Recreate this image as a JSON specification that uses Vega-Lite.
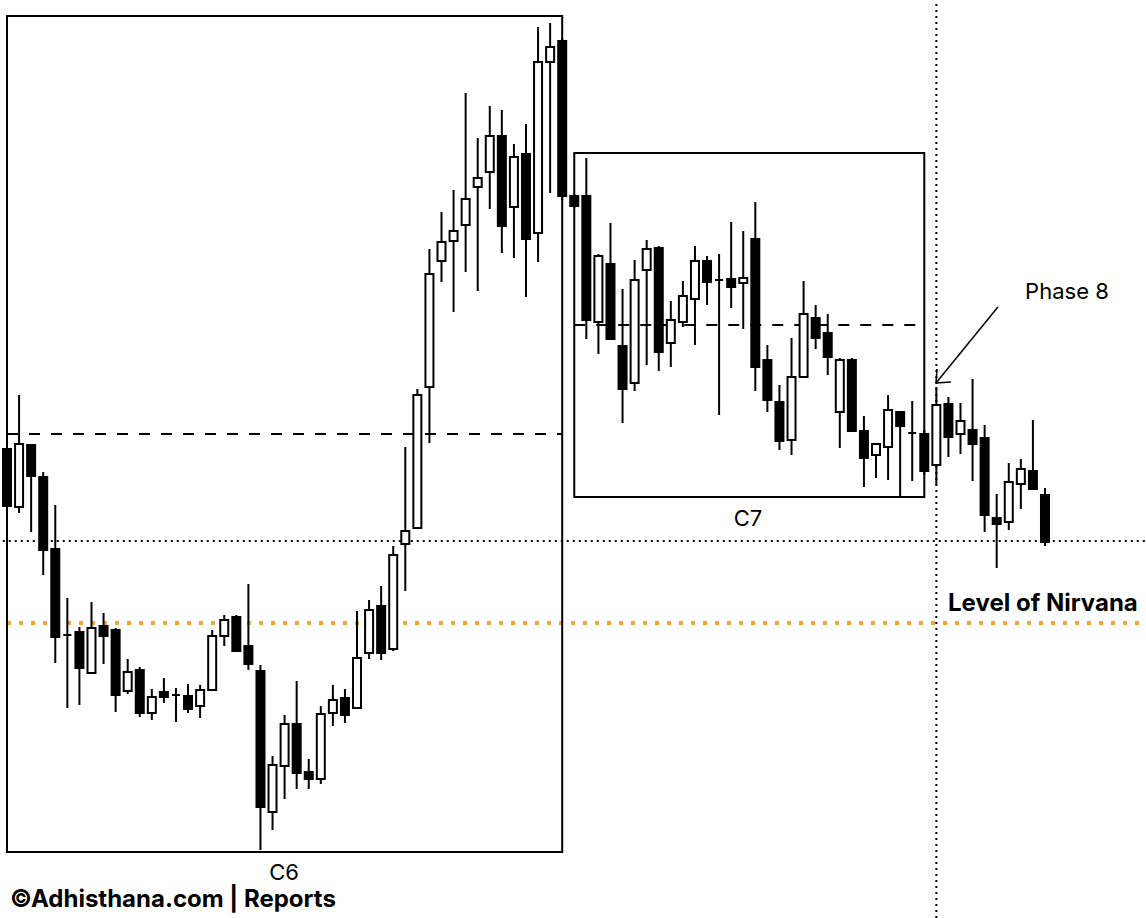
{
  "$schema": "https://vega.github.io/schema/vega-lite/v6.json",
  "width": 1146,
  "height": 918,
  "autosize": {"type": "none"},
  "padding": 0,
  "background": "white",
  "config": {"view": {"stroke": null}, "font": "Inter"},
  "datasets": {
    "candles": [
      {"i":0,"o":469,"c":412,"h":469,"l":412},
      {"i":1,"o":411,"c":474,"h":523,"l":405},
      {"i":2,"o":473,"c":442,"h":473,"l":386},
      {"i":3,"o":441,"c":368,"h":446,"l":343},
      {"i":4,"o":369,"c":281,"h":413,"l":255},
      {"i":5,"o":283,"c":283,"h":320,"l":210},
      {"i":6,"o":286,"c":250,"h":291,"l":213},
      {"i":7,"o":245,"c":290,"h":316,"l":244},
      {"i":8,"o":292,"c":282,"h":305,"l":254},
      {"i":9,"o":288,"c":223,"h":290,"l":206},
      {"i":10,"o":227,"c":246,"h":259,"l":224},
      {"i":11,"o":248,"c":205,"h":251,"l":201},
      {"i":12,"o":205,"c":221,"h":229,"l":198},
      {"i":13,"o":226,"c":221,"h":240,"l":215},
      {"i":14,"o":223,"c":223,"h":230,"l":196},
      {"i":15,"o":222,"c":209,"h":234,"l":205},
      {"i":16,"o":212,"c":228,"h":233,"l":200},
      {"i":17,"o":228,"c":282,"h":288,"l":228},
      {"i":18,"o":282,"c":298,"h":303,"l":272},
      {"i":19,"o":301,"c":267,"h":303,"l":267},
      {"i":20,"o":272,"c":254,"h":334,"l":248},
      {"i":21,"o":247,"c":111,"h":253,"l":68},
      {"i":22,"o":106,"c":153,"h":162,"l":88},
      {"i":23,"o":152,"c":194,"h":203,"l":119},
      {"i":24,"o":194,"c":145,"h":237,"l":129},
      {"i":25,"o":146,"c":139,"h":159,"l":129},
      {"i":26,"o":139,"c":204,"h":212,"l":134},
      {"i":27,"o":205,"c":218,"h":233,"l":192},
      {"i":28,"o":220,"c":203,"h":229,"l":195},
      {"i":29,"o":210,"c":260,"h":307,"l":210},
      {"i":30,"o":265,"c":308,"h":318,"l":259},
      {"i":31,"o":312,"c":265,"h":332,"l":258},
      {"i":32,"o":269,"c":363,"h":372,"l":267},
      {"i":33,"o":374,"c":387,"h":471,"l":327},
      {"i":34,"o":390,"c":523,"h":529,"l":390},
      {"i":35,"o":531,"c":644,"h":669,"l":475},
      {"i":36,"o":657,"c":676,"h":706,"l":636},
      {"i":37,"o":677,"c":687,"h":728,"l":606},
      {"i":38,"o":693,"c":719,"h":825,"l":646},
      {"i":39,"o":731,"c":740,"h":780,"l":627},
      {"i":40,"o":746,"c":782,"h":812,"l":709},
      {"i":41,"o":782,"c":692,"h":808,"l":665},
      {"i":42,"o":711,"c":761,"h":774,"l":660},
      {"i":43,"o":764,"c":679,"h":794,"l":621},
      {"i":44,"o":685,"c":856,"h":891,"l":656},
      {"i":45,"o":856,"c":871,"h":895,"l":725},
      {"i":46,"o":877,"c":722,"h":880,"l":718},
      {"i":47,"o":722,"c":712,"h":724,"l":710},
      {"i":48,"o":722,"c":598,"h":760,"l":579},
      {"i":49,"o":596,"c":662,"h":664,"l":564},
      {"i":50,"o":654,"c":579,"h":695,"l":578},
      {"i":51,"o":572,"c":529,"h":629,"l":495},
      {"i":52,"o":535,"c":638,"h":658,"l":527},
      {"i":53,"o":648,"c":669,"h":678,"l":553},
      {"i":54,"o":670,"c":566,"h":672,"l":547},
      {"i":55,"o":575,"c":598,"h":617,"l":551},
      {"i":56,"o":596,"c":622,"h":637,"l":591},
      {"i":57,"o":619,"c":657,"h":672,"l":573},
      {"i":58,"o":657,"c":636,"h":662,"l":613},
      {"i":59,"o":638,"c":638,"h":664,"l":503},
      {"i":60,"o":639,"c":631,"h":696,"l":610},
      {"i":61,"o":635,"c":640,"h":687,"l":589},
      {"i":62,"o":679,"c":551,"h":716,"l":527},
      {"i":63,"o":558,"c":518,"h":573,"l":506},
      {"i":64,"o":516,"c":477,"h":533,"l":468},
      {"i":65,"o":478,"c":541,"h":580,"l":463},
      {"i":66,"o":541,"c":604,"h":637,"l":541},
      {"i":67,"o":600,"c":580,"h":613,"l":569},
      {"i":68,"o":585,"c":561,"h":604,"l":543},
      {"i":69,"o":506,"c":558,"h":560,"l":470},
      {"i":70,"o":558,"c":487,"h":560,"l":487},
      {"i":71,"o":487,"c":460,"h":502,"l":431},
      {"i":72,"o":463,"c":474,"h":475,"l":440},
      {"i":73,"o":471,"c":508,"h":523,"l":438},
      {"i":74,"o":506,"c":492,"h":506,"l":421},
      {"i":75,"o":485,"c":485,"h":517,"l":437},
      {"i":76,"o":484,"c":447,"h":488,"l":443},
      {"i":77,"o":453,"c":513,"h":531,"l":433},
      {"i":78,"o":514,"c":481,"h":521,"l":461},
      {"i":79,"o":484,"c":497,"h":515,"l":464},
      {"i":80,"o":488,"c":474,"h":539,"l":437},
      {"i":81,"o":480,"c":403,"h":493,"l":386},
      {"i":82,"o":400,"c":394,"h":424,"l":350},
      {"i":83,"o":396,"c":436,"h":455,"l":388},
      {"i":84,"o":434,"c":449,"h":459,"l":409},
      {"i":85,"o":447,"c":429,"h":498,"l":429},
      {"i":86,"o":423,"c":376,"h":430,"l":372}
    ]
  },
  "layer": [
    {
      "data": {"values": [{"x": 0, "x2": 93.9, "y": 295}]},
      "mark": {"type": "rule", "color": "#F5A33A", "strokeWidth": 4, "strokeDash": [4, 8]},
      "encoding": {
        "x": {"field": "x", "type": "quantitative", "scale": {"domain": [-0.58, 94.37], "nice": false, "zero": false, "padding": 0}, "axis": null},
        "x2": {"field": "x2"},
        "y": {"field": "y", "type": "quantitative", "scale": {"domain": [0, 918], "nice": false, "zero": false, "padding": 0}, "axis": null}
      }
    },
    {
      "data": {"values": [{"x": -0.35, "x2": 94.37, "y": 377}]},
      "mark": {"type": "rule", "color": "black", "strokeWidth": 2, "strokeDash": [2, 4]},
      "encoding": {
        "x": {"field": "x", "type": "quantitative", "scale": {"domain": [-0.58, 94.37], "nice": false, "zero": false, "padding": 0}, "axis": null},
        "x2": {"field": "x2"},
        "y": {"field": "y", "type": "quantitative", "scale": {"domain": [0, 918], "nice": false, "zero": false, "padding": 0}, "axis": null}
      }
    },
    {
      "data": {"values": [{"x": 77, "y": 0, "y2": 918}]},
      "mark": {"type": "rule", "color": "black", "strokeWidth": 2, "strokeDash": [2, 4]},
      "encoding": {
        "x": {"field": "x", "type": "quantitative", "scale": {"domain": [-0.58, 94.37], "nice": false, "zero": false, "padding": 0}, "axis": null},
        "y": {"field": "y", "type": "quantitative", "scale": {"domain": [0, 918], "nice": false, "zero": false, "padding": 0}, "axis": null},
        "y2": {"field": "y2"}
      }
    },
    {
      "data": {"values": [{"x": 0, "x2": 46, "y": 484}, {"x": 47, "x2": 75.3, "y": 593}]},
      "mark": {"type": "rule", "color": "black", "strokeWidth": 2, "strokeDash": [11, 11]},
      "encoding": {
        "x": {"field": "x", "type": "quantitative", "scale": {"domain": [-0.58, 94.37], "nice": false, "zero": false, "padding": 0}, "axis": null},
        "x2": {"field": "x2"},
        "y": {"field": "y", "type": "quantitative", "scale": {"domain": [0, 918], "nice": false, "zero": false, "padding": 0}, "axis": null}
      }
    },
    {
      "data": {"values": [{"x": 0, "x2": 46, "y": 66, "y2": 902}, {"x": 47, "x2": 76, "y": 421, "y2": 765}]},
      "mark": {"type": "rect", "fill": null, "fillOpacity": 0, "stroke": "black", "strokeWidth": 2},
      "encoding": {
        "x": {"field": "x", "type": "quantitative", "scale": {"domain": [-0.58, 94.37], "nice": false, "zero": false, "padding": 0}, "axis": null},
        "x2": {"field": "x2"},
        "y": {"field": "y", "type": "quantitative", "scale": {"domain": [0, 918], "nice": false, "zero": false, "padding": 0}, "axis": null},
        "y2": {"field": "y2"}
      }
    },
    {
      "data": {"values": [
        {"x": 82.1, "y": 611, "x2": 76.97, "y2": 535},
        {"x": 76.97, "y": 535, "x2": 77.05, "y2": 549},
        {"x": 76.97, "y": 535, "x2": 78.2, "y2": 536}
      ]},
      "mark": {"type": "rule", "color": "black", "strokeWidth": 1.5},
      "encoding": {
        "x": {"field": "x", "type": "quantitative", "scale": {"domain": [-0.58, 94.37], "nice": false, "zero": false, "padding": 0}, "axis": null},
        "x2": {"field": "x2"},
        "y": {"field": "y", "type": "quantitative", "scale": {"domain": [0, 918], "nice": false, "zero": false, "padding": 0}, "axis": null},
        "y2": {"field": "y2"}
      }
    },
    {
      "data": {"name": "candles"},
      "mark": {"type": "rule", "color": "black", "strokeWidth": 2},
      "encoding": {
        "x": {"field": "i", "type": "quantitative", "scale": {"domain": [-0.58, 94.37], "nice": false, "zero": false, "padding": 0}, "axis": null},
        "y": {"field": "l", "type": "quantitative", "scale": {"domain": [0, 918], "nice": false, "zero": false, "padding": 0}, "axis": null},
        "y2": {"field": "h"}
      }
    },
    {
      "data": {"name": "candles"},
      "mark": {"type": "bar", "width": 8, "stroke": "black", "strokeWidth": 2},
      "encoding": {
        "x": {"field": "i", "type": "quantitative", "scale": {"domain": [-0.58, 94.37], "nice": false, "zero": false, "padding": 0}, "axis": null},
        "y": {"field": "o", "type": "quantitative", "scale": {"domain": [0, 918], "nice": false, "zero": false, "padding": 0}, "axis": null},
        "y2": {"field": "c"},
        "fill": {"condition": {"test": "datum.c < datum.o", "value": "black"}, "value": "white"}
      }
    },
    {
      "data": {"values": [
        {"x": 22.95, "y": 45, "t": "C6"},
        {"x": 61.39, "y": 399, "t": "C7"}
      ]},
      "mark": {"type": "text", "baseline": "middle", "align": "center", "color": "black", "fontSize": 22},
      "encoding": {
        "x": {"field": "x", "type": "quantitative", "scale": {"domain": [-0.58, 94.37], "nice": false, "zero": false, "padding": 0}, "axis": null},
        "y": {"field": "y", "type": "quantitative", "scale": {"domain": [0, 918], "nice": false, "zero": false, "padding": 0}, "axis": null},
        "text": {"field": "t"}
      }
    },
    {
      "data": {"values": [
        {"x": 87.82, "y": 626, "t": "Phase 8"}
      ]},
      "mark": {"type": "text", "baseline": "middle", "align": "center", "color": "black", "fontSize": 22},
      "encoding": {
        "x": {"field": "x", "type": "quantitative", "scale": {"domain": [-0.58, 94.37], "nice": false, "zero": false, "padding": 0}, "axis": null},
        "y": {"field": "y", "type": "quantitative", "scale": {"domain": [0, 918], "nice": false, "zero": false, "padding": 0}, "axis": null},
        "text": {"field": "t"}
      }
    },
    {
      "data": {"values": [
        {"x": 85.83, "y": 314, "t": "Level of Nirvana"}
      ]},
      "mark": {"type": "text", "baseline": "middle", "align": "center", "color": "black", "fontSize": 24, "fontWeight": "bold"},
      "encoding": {
        "x": {"field": "x", "type": "quantitative", "scale": {"domain": [-0.58, 94.37], "nice": false, "zero": false, "padding": 0}, "axis": null},
        "y": {"field": "y", "type": "quantitative", "scale": {"domain": [0, 918], "nice": false, "zero": false, "padding": 0}, "axis": null},
        "text": {"field": "t"}
      }
    },
    {
      "data": {"values": [
        {"x": 0.25, "y": 18, "t": "©Adhisthana.com | Reports"}
      ]},
      "mark": {"type": "text", "baseline": "middle", "align": "left", "color": "black", "fontSize": 24, "fontWeight": "bold"},
      "encoding": {
        "x": {"field": "x", "type": "quantitative", "scale": {"domain": [-0.58, 94.37], "nice": false, "zero": false, "padding": 0}, "axis": null},
        "y": {"field": "y", "type": "quantitative", "scale": {"domain": [0, 918], "nice": false, "zero": false, "padding": 0}, "axis": null},
        "text": {"field": "t"}
      }
    }
  ]
}
